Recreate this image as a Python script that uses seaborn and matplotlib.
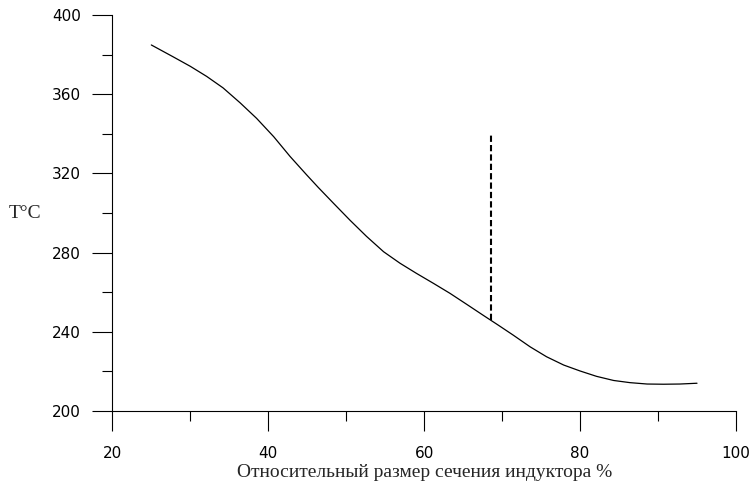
import matplotlib
matplotlib.use("Agg")
import matplotlib.pyplot as plt
import seaborn as sns
import pandas as pd
from matplotlib.ticker import MultipleLocator

# curve
size_pct = [25, 27.8, 30, 32.1, 34.2, 36.4, 38.5, 40.7, 42.8, 44.9, 46.4, 48.4, 50.5,
            52.6, 54.8, 56.9, 59, 61.2, 63.3, 65.5, 67.6, 69.5, 71.4, 73.6, 75.7,
            77.9, 80, 82.1, 84.3, 86.4, 88.6, 90.7, 92.8, 95]
temp_c = [385, 379, 374.2, 369.1, 363.3, 355.7, 347.9, 338.6, 328.6, 319.4, 313, 304.8, 296.3,
          288.2, 280.4, 274.6, 269.5, 264.4, 259.4, 253.7, 248.2, 243.3, 238.3, 232.3, 227.3,
          223.1, 220.1, 217.4, 215.3, 214.2, 213.5, 213.4, 213.5, 213.9]

# vertical dashed marker
mark_x = [68.6, 68.6]
mark_y = [246, 340]

df = pd.DataFrame({"x": size_pct, "y": temp_c})
dm = pd.DataFrame({"x": mark_x, "y": mark_y})

sns.set_style("ticks")
plt.rcParams["font.family"] = ["DejaVu Sans"]
serif = ["Liberation Serif", "DejaVu Serif"]

fig = plt.figure(figsize=(7.52, 4.86), dpi=100)
ax = fig.add_axes([0.1494, 0.1549, 0.8293, 0.8136])

sns.lineplot(data=df, x="x", y="y", ax=ax, color="black", linewidth=0.9,
             sort=False, estimator=None)
sns.lineplot(data=dm, x="x", y="y", ax=ax, color="black", linewidth=1.5,
             linestyle=(0, (3, 1.5)), sort=False, estimator=None)

ax.set_xlim(20, 100)
ax.set_ylim(200, 400)
ax.xaxis.set_major_locator(MultipleLocator(20))
ax.xaxis.set_minor_locator(MultipleLocator(10))
ax.yaxis.set_major_locator(MultipleLocator(40))
ax.yaxis.set_minor_locator(MultipleLocator(20))

for s in ["top", "right"]:
    ax.spines[s].set_visible(False)
for s in ["left", "bottom"]:
    ax.spines[s].set_linewidth(0.8)
    ax.spines[s].set_color("black")

ax.tick_params(axis="x", which="major", length=14.4, width=0.8, pad=11, labelsize=11, colors="black")
ax.tick_params(axis="y", which="major", length=14.4, width=0.8, pad=8, labelsize=11, colors="black")
ax.tick_params(which="minor", length=7.2, width=0.8, color="black")

ax.set_xlabel("Относительный размер сечения индуктора %", family=serif,
              fontsize=14, labelpad=2.5)
ax.set_ylabel("T°C", family=serif, fontsize=14,
              rotation=0, ha="left", va="center")
ax.yaxis.set_label_coords(-0.166, 0.5)

fig.savefig("out.png", dpi=100)
